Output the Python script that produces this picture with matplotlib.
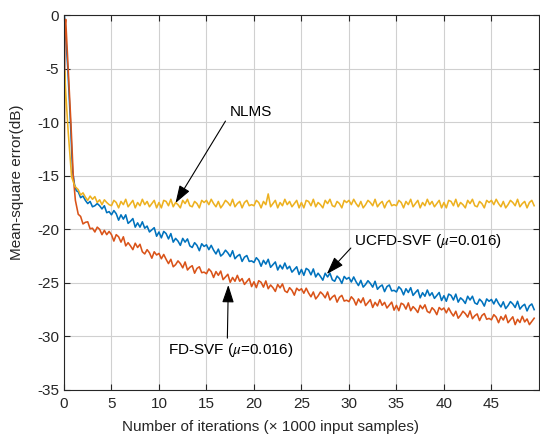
import numpy as np
import matplotlib
matplotlib.use('Agg')
from matplotlib import pyplot as plt

plt.rcParams['font.family'] = ['Liberation Sans', 'DejaVu Sans']
plt.rcParams['mathtext.fontset'] = 'stix'
plt.rcParams['axes.unicode_minus'] = False

# iterations (x 1000 samples) after the initial transient, 1.5 .. 49.5
x_main = np.arange(1.5, 49.6, 0.25)

# start of each curve (transient)
x_head_ucfd = [0.0, 0.03, 0.15, 0.4, 0.68, 0.9, 1.1, 1.3]
y_head_ucfd = [-17.8, 0.0, -1.5, -5.0, -10.0, -14.5, -15.8, -16.4]
x_head_fd = [0.0, 0.1, 0.18, 0.45, 0.73, 0.98, 1.2]
y_head_fd = [-17.8, -1.0, -0.4, -5.1, -10.1, -15.1, -17.3]
x_head_nlms = [0.0, 0.06, 0.2, 0.45, 0.8, 1.15]
y_head_nlms = [-17.0, -5.2, -7.5, -11.0, -15.1, -16.0]

ucfd = [-16.5, -17.05, -16.9, -17.3, -17.6, -17.4, -17.9, -17.8, -17.6, -17.8, -18.1, -17.8, -18.45, -18.35,
        -18.65, -18.25, -18.55, -19.15, -18.65, -19.05, -18.65, -19.45, -19.25, -19.0, -19.8, -19.4, -19.8, -19.3, -19.9, -19.7, -20.25, -20.05, -19.85, -20.65,
        -20.25, -20.8, -20.2, -20.4, -20.9, -20.4, -21.2, -20.85, -21.1, -21.5, -20.85, -21.2, -20.9, -21.55, -21.7, -21.25, -21.5, -22.0, -21.35, -21.6,
        -21.45, -21.9, -21.5, -21.95, -22.3, -21.85, -22.5, -22.3, -21.95, -22.2, -22.55, -22.0, -22.75, -22.5, -22.35, -23.0, -22.6, -22.45, -23.0, -22.95,
        -23.1, -22.65, -22.9, -23.45, -22.9, -23.25, -22.8, -23.55, -23.3, -23.05, -23.8, -23.35, -23.7, -23.15, -23.7, -23.45, -24.0, -23.75, -23.5, -24.22,
        -23.75, -24.3, -23.65, -23.8, -24.25, -23.7, -24.45, -24.1, -24.4, -24.75, -24.1, -24.45, -24.1, -24.72, -24.85, -24.37, -24.6, -25.05, -24.4, -24.65,
        -24.5, -24.92, -24.45, -24.9, -25.25, -24.77, -25.4, -25.15, -24.8, -25.05, -25.4, -24.85, -25.6, -25.35, -25.2, -25.82, -25.35, -25.2, -25.75, -25.7,
        -25.85, -25.37, -25.6, -26.12, -25.55, -25.9, -25.45, -26.17, -25.9, -25.65, -26.4, -25.92, -26.25, -25.67, -26.2, -25.92, -26.45, -26.17, -25.9, -26.65,
        -26.2, -26.72, -26.05, -26.17, -26.6, -26.05, -26.8, -26.4, -26.6, -26.92, -26.25, -26.6, -26.25, -26.87, -27.0, -26.52, -26.75, -27.17, -26.5, -26.72,
        -26.55, -26.97, -26.5, -26.92, -27.25, -26.77, -27.4, -27.12, -26.75, -26.97, -27.3, -26.72, -27.45, -27.17, -27.0, -27.62, -27.15, -26.97, -27.5]

fd = [-18.6, -18.8, -19.5, -19.35, -19.3, -19.95, -19.9, -20.25, -19.8, -20.0, -20.5, -20.1, -20.5, -20.2,
      -20.5, -21.1, -20.5, -20.7, -21.2, -20.7, -21.55, -21.25, -21.55, -21.9, -21.3, -21.7, -21.4, -22.1, -22.3, -21.9, -22.2, -22.7, -22.1, -22.4,
      -22.25, -22.75, -22.35, -22.8, -23.2, -22.8, -23.5, -23.3, -22.95, -23.2, -23.6, -23.05, -23.8, -23.55, -23.4, -24.1, -23.65, -23.5, -24.05, -24.0,
      -24.15, -23.7, -23.95, -24.5, -23.95, -24.3, -23.9, -24.7, -24.45, -24.2, -24.95, -24.5, -24.85, -24.3, -24.85, -24.6, -25.15, -24.87, -24.6, -25.35,
      -24.9, -25.45, -24.8, -24.95, -25.4, -24.82, -25.55, -25.2, -25.45, -25.8, -25.15, -25.47, -25.1, -25.75, -25.9, -25.45, -25.7, -26.15, -25.5, -25.72,
      -25.55, -25.97, -25.5, -25.95, -26.3, -25.85, -26.5, -26.22, -25.85, -26.07, -26.4, -25.85, -26.6, -26.32, -26.15, -26.8, -26.35, -26.17, -26.7, -26.62,
      -26.75, -26.3, -26.55, -27.07, -26.5, -26.85, -26.4, -27.12, -26.85, -26.57, -27.3, -26.82, -27.15, -26.57, -27.1, -26.82, -27.35, -27.07, -26.8, -27.55,
      -27.1, -27.6, -26.9, -27.02, -27.45, -26.87, -27.6, -27.22, -27.45, -27.77, -27.1, -27.42, -27.05, -27.67, -27.8, -27.32, -27.55, -27.97, -27.3, -27.52,
      -27.35, -27.8, -27.35, -27.77, -28.1, -27.65, -28.3, -28.02, -27.65, -27.87, -28.2, -27.62, -28.35, -28.07, -27.9, -28.52, -28.05, -27.87, -28.4, -28.32,
      -28.45, -27.97, -28.2, -28.72, -28.15, -28.47, -28.0, -28.72, -28.45, -28.17, -28.9, -28.4, -28.7, -28.12, -28.65, -28.37, -28.9, -28.6, -28.3]

nlms = [-16.3, -16.8, -16.6, -17.0, -17.3, -16.9, -17.2, -16.95, -17.5, -17.25, -17.7, -17.25, -17.5, -17.7,
        -17.8, -17.3, -17.5, -18.0, -17.4, -17.7, -17.2, -17.9, -17.6, -17.3, -18.0, -17.5, -17.8, -17.2, -17.7, -17.4, -17.9, -17.6, -17.3, -18.0,
        -17.5, -18.0, -17.3, -17.4, -17.8, -17.2, -17.9, -17.5, -17.7, -18.0, -17.3, -17.6, -17.2, -17.8, -17.9, -17.4, -17.6, -18.0, -17.3, -17.5,
        -17.3, -17.7, -17.2, -17.6, -17.9, -17.4, -18.0, -17.7, -17.3, -17.5, -17.8, -17.2, -17.9, -17.6, -17.4, -18.0, -17.5, -17.3, -17.8, -17.7,
        -17.8, -17.3, -17.5, -18.0, -17.4, -17.7, -16.7, -17.9, -17.6, -17.3, -18.0, -17.5, -17.8, -17.2, -17.7, -17.4, -17.9, -17.6, -17.3, -18.0,
        -17.5, -18.0, -17.3, -17.4, -17.8, -17.2, -17.9, -17.5, -17.7, -18.0, -17.3, -17.6, -17.2, -17.8, -17.9, -17.4, -17.6, -18.0, -17.3, -17.5,
        -17.3, -17.7, -17.2, -17.6, -17.9, -17.4, -18.0, -17.7, -17.3, -17.5, -17.8, -17.2, -17.9, -17.6, -17.4, -18.0, -17.5, -17.3, -17.8, -17.7,
        -17.8, -17.3, -17.5, -18.0, -17.4, -17.7, -17.2, -17.9, -17.6, -17.3, -18.0, -17.5, -17.8, -17.2, -17.7, -17.4, -17.9, -17.6, -17.3, -18.0,
        -17.5, -18.0, -17.3, -17.4, -17.8, -17.2, -17.9, -17.5, -17.7, -18.0, -17.3, -17.6, -17.2, -17.8, -17.9, -17.4, -17.6, -18.0, -17.3, -17.5,
        -17.3, -17.7, -17.2, -17.6, -17.9, -17.4, -18.0, -17.7, -17.3, -17.5, -17.8, -17.2, -17.9, -17.6, -17.4, -18.0, -17.5, -17.3, -17.8]

fig = plt.figure(figsize=(5.4, 4.37), dpi=100)
ax = fig.add_axes([0.1185, 0.1076, 0.8795, 0.858])

ax.plot(np.r_[x_head_ucfd, x_main], np.r_[y_head_ucfd, ucfd], color='#0072BD', lw=1.15)
ax.plot(np.r_[x_head_fd, x_main], np.r_[y_head_fd, fd], color='#D95319', lw=1.15)
ax.plot(np.r_[x_head_nlms, x_main], np.r_[y_head_nlms, nlms], color='#EDB120', lw=1.15)

ax.set_xlim(0, 50)
ax.set_ylim(-35, 0)
ax.set_xticks(range(0, 50, 5))
ax.set_yticks(range(-35, 1, 5))
ax.grid(True, color='#d0d0d0', lw=0.8)
ax.set_axisbelow(True)
ax.tick_params(direction='in', top=True, right=True, labelsize=11,
               colors='#262626', length=4, width=0.8)
ax.tick_params(axis='x', pad=5)
for s in ax.spines.values():
    s.set_color('#262626')
    s.set_linewidth(0.8)

ax.set_xlabel('Number of iterations (× 1000 input samples)', fontsize=11, color='#262626')
ax.set_ylabel('Mean-square error(dB)', fontsize=11, color='#262626')
ax.xaxis.set_label_coords(0.435, -0.08)
ax.yaxis.set_label_coords(-0.085, 0.555)

arrow = dict(arrowstyle='-|>,head_length=0.9,head_width=0.3', color='k', lw=0.8,
             shrinkA=0, shrinkB=0, mutation_scale=12)
ax.annotate('', xy=(11.74, -17.55), xytext=(17.0, -9.9), arrowprops=arrow)
ax.text(19.7, -9.06, 'NLMS', ha='center', va='center', fontsize=11)
ax.annotate('', xy=(27.67, -24.18), xytext=(30.2, -21.75), arrowprops=arrow)
ax.text(38.3, -21.1, r'UCFD-SVF ($\mu$=0.016)', ha='center', va='center', fontsize=11)
ax.annotate('', xy=(17.3, -25.2), xytext=(17.2, -30.16), arrowprops=arrow)
ax.text(17.6, -31.3, r'FD-SVF ($\mu$=0.016)', ha='center', va='center', fontsize=11)

fig.savefig('out.png', dpi=100)
